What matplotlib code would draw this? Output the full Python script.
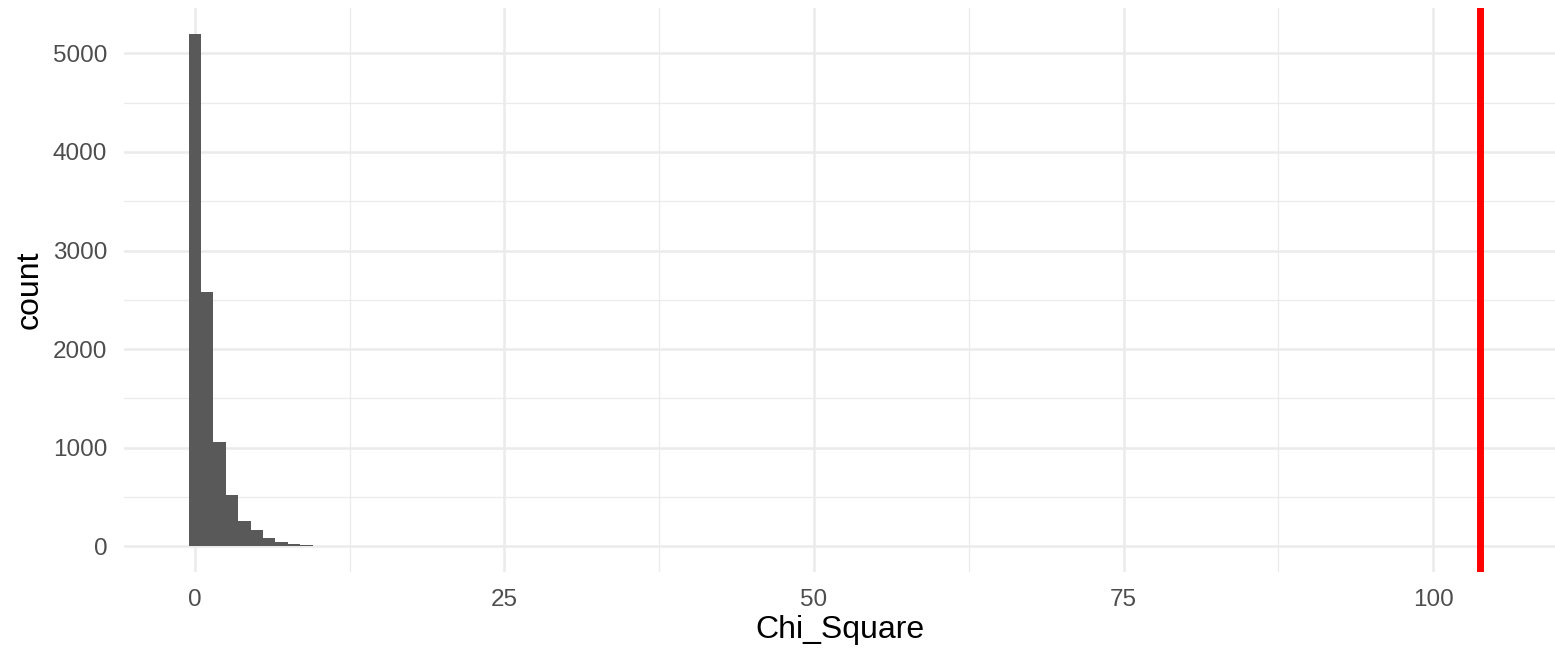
import numpy as np
import matplotlib.pyplot as plt
from matplotlib.ticker import MultipleLocator

plt.rcParams['font.family'] = ['Liberation Sans', 'DejaVu Sans']

# histogram of simulated chi-square statistics (bin width 1, centred on integers)
bin_centers = [0, 1, 2, 3, 4, 5, 6, 7, 8, 9, 10, 11, 12, 13, 14, 15, 16]
bin_counts = [5200, 2580, 1060, 523, 258, 166, 86, 45, 24, 15, 7, 6, 5, 2, 0, 0, 1]
observed_stat = 103.8

x_ticks = [0, 25, 50, 75, 100]
y_ticks = [0, 1000, 2000, 3000, 4000, 5000]

fig = plt.figure(figsize=(15.55, 6.5), dpi=100)
ax = fig.add_axes([0.0797, 0.12, 0.9203, 0.8677])

ax.bar(bin_centers, bin_counts, width=1.0, color='#595959', linewidth=0, zorder=2)
ax.axvline(observed_stat, color='#FF0000', linewidth=5.0, zorder=3)

# panel limits with a little padding around the data
ax.set_xlim(-5.73, 109.85)
ymax = max(bin_counts)
ax.set_ylim(-ymax * 0.05, ymax * 1.05)

ax.set_xticks(x_ticks)
ax.set_yticks(y_ticks)
ax.xaxis.set_minor_locator(MultipleLocator(12.5))
ax.yaxis.set_minor_locator(MultipleLocator(500))

ax.grid(which='major', color='#EBEBEB', linewidth=1.8, zorder=0)
ax.grid(which='minor', color='#EBEBEB', linewidth=0.9, zorder=0)
ax.set_axisbelow(True)

for side in ax.spines.values():
    side.set_visible(False)
ax.tick_params(which='both', length=0)
ax.tick_params(axis='x', labelsize=17.5, labelcolor='#4D4D4D', pad=12)
ax.tick_params(axis='y', labelsize=17.5, labelcolor='#4D4D4D', pad=12)

ax.set_xlabel('Chi_Square', fontsize=23, color='black', labelpad=3)
ax.set_ylabel('count', fontsize=23, color='black', labelpad=6)

fig.savefig('out.png', dpi=100, facecolor='white')
